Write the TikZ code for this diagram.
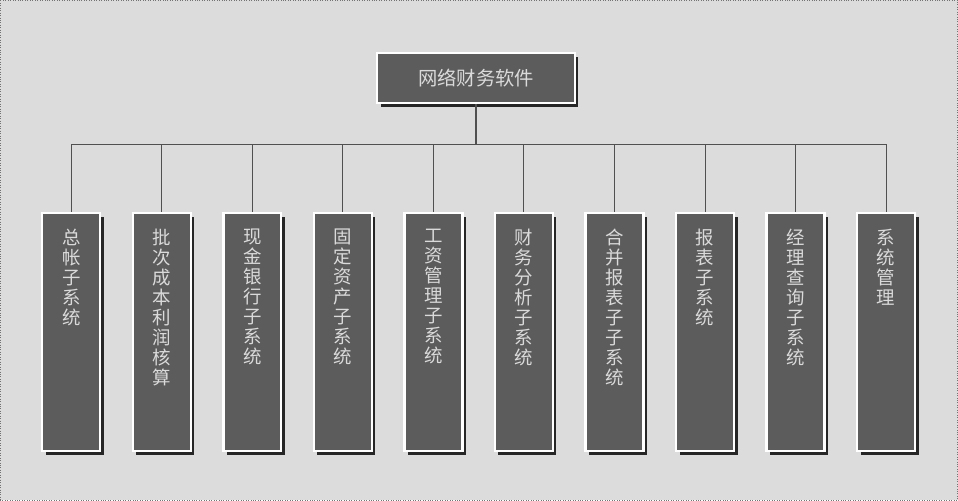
\documentclass[tikz,border=0pt]{standalone}
\usepackage{fontspec}
\newfontfamily\cjk{Noto Sans CJK SC}
\usetikzlibrary{shadows}
\definecolor{bggray}{HTML}{DCDCDC}
\definecolor{boxgray}{HTML}{5C5C5C}
\definecolor{txtgray}{HTML}{DADADA}
\definecolor{linegray}{HTML}{505050}

\tikzset{
  box/.style = {rectangle, draw=white, line width=1.3pt, fill=boxgray,
    drop shadow={shadow xshift=0.07cm, shadow yshift=-0.07cm, fill=black!85, opacity=1}},
  subsys/.style = {box, minimum width=1.16cm, minimum height=4.76cm},
  subtext/.style = {anchor=north, yshift=-0.33cm, inner sep=0pt, align=center,
    text=txtgray, font=\cjk\fontsize{10.5pt}{0.4cm}\selectfont},
  tree/.style = {draw=linegray, line width=0.6pt}
}

\begin{document}
\begin{tikzpicture}[node distance = 1.812cm]
\fill[bggray] (0,0) rectangle (19.16,-10);
\draw[densely dotted, black!55] (0,0) rectangle (19.16,-10);
\useasboundingbox (0,0) rectangle (19.16,-10);

\node[box, minimum width=3.96cm, minimum height=1cm, text=txtgray,
  font=\cjk\fontsize{11pt}{13pt}\selectfont] (top) at (9.52,-1.56) {网络财务软件};

\node[subsys] (b1) at (1.42,-6.64) {};
\node[subsys] (b2) [right of = b1] {};
\node[subsys] (b3) [right of = b2] {};
\node[subsys] (b4) [right of = b3] {};
\node[subsys] (b5) [right of = b4] {};
\node[subsys] (b6) [right of = b5] {};
\node[subsys] (b7) [right of = b6] {};
\node[subsys] (b8) [right of = b7] {};
\node[subsys] (b9) [right of = b8] {};
\node[subsys] (b10) [right of = b9] {};

\node[subtext] at (b1.north) {总\\帐\\子\\系\\统};
\node[subtext] at (b2.north) {批\\次\\成\\本\\利\\润\\核\\算};
\node[subtext] at (b3.north) {现\\金\\银\\行\\子\\系\\统};
\node[subtext] at (b4.north) {固\\定\\资\\产\\子\\系\\统};
\node[subtext] at (b5.north) {工\\资\\管\\理\\子\\系\\统};
\node[subtext] at (b6.north) {财\\务\\分\\析\\子\\系\\统};
\node[subtext] at (b7.north) {合\\并\\报\\表\\子\\子\\系\\统};
\node[subtext] at (b8.north) {报\\表\\子\\系\\统};
\node[subtext] at (b9.north) {经\\理\\查\\询\\子\\系\\统};
\node[subtext] at (b10.north) {系\\统\\管\\理};

\foreach \i in {1,...,10}
  \draw[tree] (top.south) -- ++(0,-0.8) -| (b\i.north);
\end{tikzpicture}
\end{document}
